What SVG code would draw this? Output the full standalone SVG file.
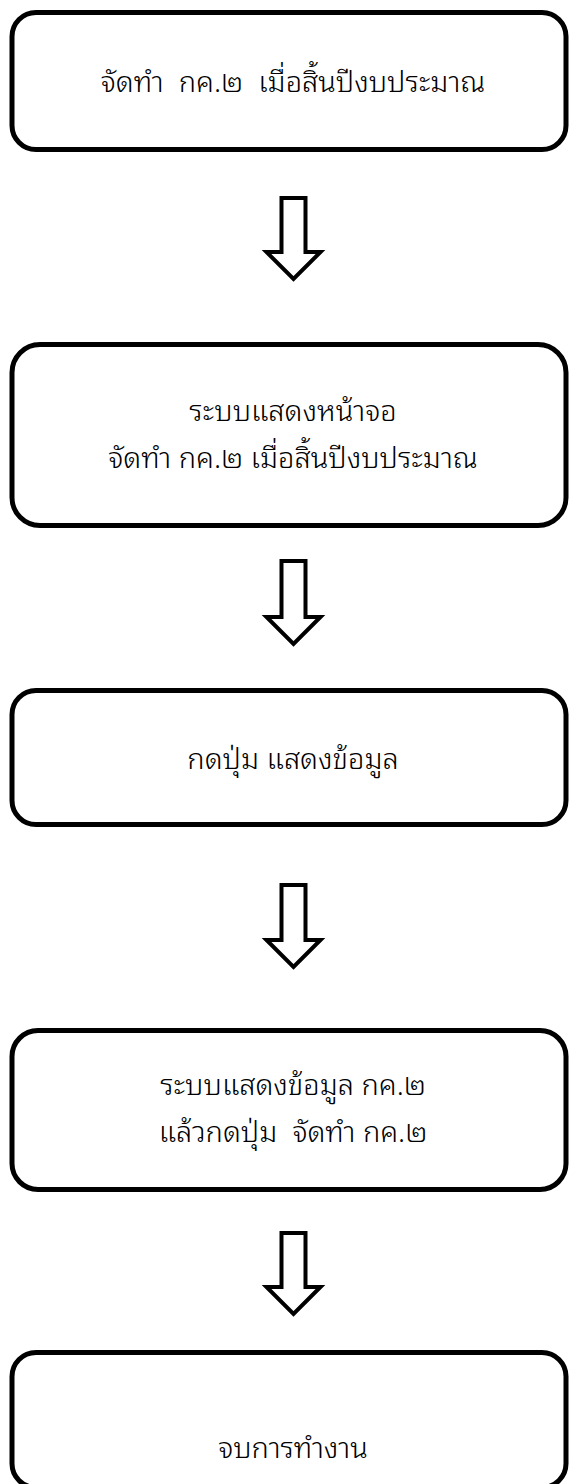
<svg xmlns="http://www.w3.org/2000/svg" width="569" height="1484" viewBox="0 0 569 1484">
<defs>
<style>
.box{fill:#fff;stroke:#000;stroke-width:5}
.arr{fill:#fff;stroke:#000;stroke-width:4;stroke-linejoin:miter}
.t{font-family:"Noto Sans Thai Looped","Loma","Noto Sans Thai","Noto Sans",sans-serif;font-weight:300;font-size:29px;fill:#000;text-anchor:middle;white-space:pre}
</style>
</defs>
<rect width="569" height="1484" fill="#fff"/>
<g id="connectors">
<path class="arr" d="M281.5,198 H305.5 V252 H320.5 L293.5,279 L266.5,252 H281.5 Z"/>
<path class="arr" d="M281.5,561 H305.5 V617 H320.5 L293.5,644 L266.5,617 H281.5 Z"/>
<path class="arr" d="M281.5,885 H305.5 V940 H320.5 L293.5,967 L266.5,940 H281.5 Z"/>
<path class="arr" d="M281.5,1233 H305.5 V1287 H320.5 L293.5,1314 L266.5,1287 H281.5 Z"/>
</g>
<g id="n1"><rect class="box" x="12" y="12.5" width="554" height="137" rx="24"/><text class="t" x="293" y="92" xml:space="preserve">จัดทำ  กค.๒  เมื่อสิ้นปีงบประมาณ</text></g>
<g id="n2"><rect class="box" x="12" y="344.5" width="554" height="181" rx="28"/><text class="t" x="293" y="421">ระบบแสดงหน้าจอ</text><text class="t" x="293" y="468">จัดทำ กค.๒ เมื่อสิ้นปีงบประมาณ</text></g>
<g id="n3"><rect class="box" x="12" y="690.5" width="554" height="134" rx="24"/><text class="t" x="293" y="769">กดปุ่ม แสดงข้อมูล</text></g>
<g id="n4"><rect class="box" x="12" y="1030.5" width="554" height="159" rx="26"/><text class="t" x="293" y="1095">ระบบแสดงข้อมูล กค.๒</text><text class="t" x="293" y="1142" xml:space="preserve">แล้วกดปุ่ม  จัดทำ กค.๒</text></g>
<g id="n5"><rect class="box" x="12" y="1352.5" width="554" height="135" rx="24"/><text class="t" x="293" y="1458">จบการทำงาน</text></g>
</svg>
